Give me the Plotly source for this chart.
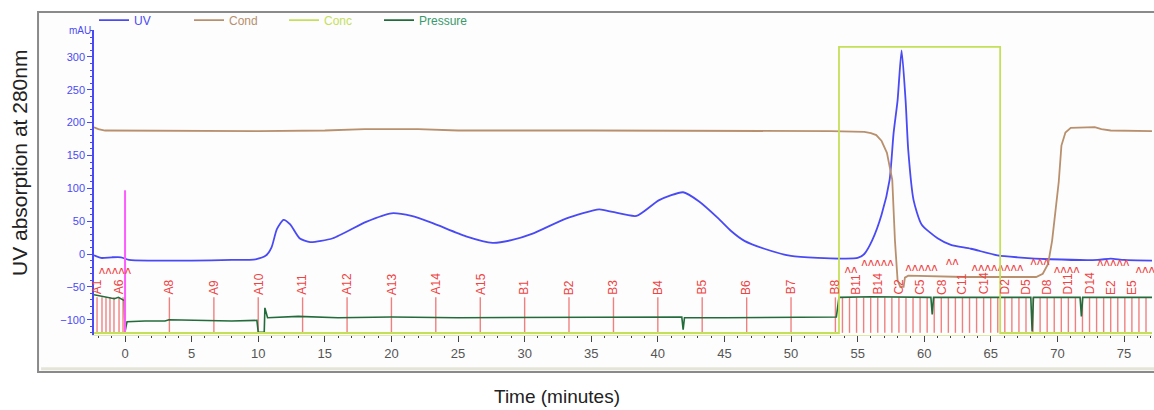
import plotly.graph_objects as go

# ---------------- data ----------------
uv_t = [-2.33, -1.8, -1.0, -0.3, 0.3, 2.0, 5.0, 8.0, 9.8, 10.6, 11.0, 11.4, 11.9, 12.4, 13.1, 13.9,
        15.6, 18.1, 20.0, 21.5, 23.1, 25.6, 27.6, 29.0, 30.6, 33.1, 35.6, 36.6, 38.4, 40.1, 41.9,
        43.1, 44.5, 45.5, 46.5, 48.0, 50.0, 52.0, 54.0, 55.0, 55.5, 56.1, 56.8, 57.4, 57.7, 58.0,
        58.3, 58.6, 58.8, 59.2, 59.8, 61.0, 62.0, 63.5, 65.5, 67.0, 69.5, 73.0, 74.0, 75.0, 77.1]
uv_v = [-2, -6, -5, -5, -9, -10, -10, -9, -8, -2, 10, 38, 52, 45, 24, 18,
        24, 49, 62, 58, 47, 27, 17, 21, 31, 54, 68, 64, 58, 82, 94,
        80, 55, 35, 20, 8, -3, -6, -7, -6, 0, 21, 60, 113, 184, 234,
        310, 234, 158, 82, 45, 24, 14, 8, -2, -5, -8, -9, -7, -9, -10]

cond_t = [-2.33, -2.0, -1.5, 5.0, 10.0, 15.0, 18.0, 22.0, 25.0, 35.0, 45.0, 53.0, 55.5, 56.0,
          56.4, 56.8, 57.2, 57.6, 57.8, 58.0, 58.2, 58.45, 58.55, 58.8, 63.0, 68.4, 68.9, 69.3,
          69.6, 69.9, 70.1, 70.3, 70.6, 71.0, 72.8, 73.3, 74.0, 77.1]
cond_v = [193, 190, 188, 187, 187, 188, 190, 190, 188, 188, 188, 187, 186, 184,
          181, 172, 154, 113, 21, -40, -50, -50, -36, -33, -35, -35, -30, -15,
          20, 70, 110, 165, 185, 192, 193, 190, 188, 187]

conc_t = [-2.33, 53.6, 53.6, 65.7, 65.7, 77.1]
conc_v = [0, 0, 100, 100, 0, 0]

pres_t = [-2.33, -1.8, -1.2, -0.8, -0.5, -0.2, -0.05, 0.0, 0.15, 1.5, 3.0, 3.3, 6.0, 8.0, 9.9,
          10.0, 10.45, 10.5, 10.7, 13.0, 16.0, 20.0, 25.0, 30.0, 35.0, 41.8, 41.9, 42.0, 45.0,
          50.0, 53.4, 53.6, 56.0, 60.5, 60.6, 60.7, 64.0, 68.0, 68.1, 68.2, 71.7, 71.8, 71.9, 77.1]
pres_v = [-62, -64, -66, -68, -66, -70, -71, -118, -103, -102, -102, -100, -101, -102, -101,
          -119, -119, -82, -97, -95, -97, -96, -97, -97, -97, -96, -115, -97, -97,
          -97, -96, -66, -65, -66, -92, -66, -66, -66, -118, -66, -66, -95, -66, -66]

inject_t = 0.0
inject_top = 97

frac_t = [-2.1, -1.73, -1.43, -1.13, -0.83, -0.45, -0.15,
          0.0, 3.33, 6.67, 10.0, 13.33, 16.67, 20.0, 23.33, 26.67, 30.0, 33.33, 36.67, 40.0,
          43.33, 46.67, 50.0,
          53.33, 53.86, 54.39, 54.92, 55.45, 55.98, 56.51, 57.04, 57.57, 58.10, 58.63, 59.16,
          59.69, 60.22, 60.75, 61.28, 61.81, 62.34, 62.87, 63.40, 63.93, 64.46, 64.99, 65.52,
          66.05, 66.58, 67.11, 67.64, 68.17, 68.70, 69.23, 69.76, 70.29, 70.82, 71.35, 71.88,
          72.41, 72.94, 73.47, 74.00, 74.53, 75.06, 75.59, 76.12, 76.65]
frac_bottom = -120
frac_top = -66

frac_label_t = [-2.1, -0.45, 3.33, 6.67, 10.0, 13.33, 16.67, 20.0, 23.33, 26.67, 30.0, 33.33,
                36.67, 40.0, 43.33, 46.67, 50.0, 53.33, 54.92, 56.51, 58.10, 59.69, 61.28,
                62.87, 64.46, 66.05, 67.64, 69.23, 70.82, 72.41, 74.00, 75.59]
frac_label_txt = ["A1", "A6", "A8", "A9", "A10", "A11", "A12", "A13", "A14", "A15", "B1", "B2",
                  "B3", "B4", "B5", "B6", "B7", "B8", "B11", "B14", "C2", "C5", "C8",
                  "C11", "C14", "D2", "D5", "D8", "D11", "D14", "E2", "E5"]

event_t = [-0.75, 54.5, 56.5, 59.8, 62.1, 65.5, 68.7, 70.7, 74.2, 76.6]
event_v = [-27, -24, -14, -21, -12, -21, -12, -24, -14, -24]
event_txt = ["ʌʌʌʌʌ", "ʌʌ", "ʌʌʌʌʌ", "ʌʌʌʌʌ", "ʌʌ", "ʌʌʌʌʌʌʌʌ", "ʌʌʌ",
             "ʌʌʌʌ", "ʌʌʌʌʌ", "ʌʌʌ"]

x_range = [-2.33, 77.1]
y_range = [-123.3, 341]
y2_range = [-0.7, 105.9]

C_UV = "#4a4af5"
C_COND = "#b8906e"
C_CONC = "#c4e05a"
C_PRES = "#236b3b"
C_PRES_TXT = "#3a9a6a"
C_FRAC = "#f08080"
C_LAB = "#ee4444"

# ---------------- figure ----------------
fig = go.Figure()

fx, fy = [], []
for t in frac_t:
    fx += [t, t, None]
    fy += [frac_bottom, frac_top, None]
fig.add_trace(go.Scatter(x=fx, y=fy, mode="lines", line=dict(color=C_FRAC, width=1.4),
                         showlegend=False, hoverinfo="skip"))

fig.add_trace(go.Scatter(x=uv_t, y=uv_v, mode="lines",
                         line=dict(color=C_UV, width=1.8, shape="spline", smoothing=0.6),
                         name=f"<span style='color:{C_UV}'>UV</span>"))
fig.add_trace(go.Scatter(x=cond_t, y=cond_v, mode="lines", line=dict(color=C_COND, width=1.8),
                         name=f"<span style='color:{C_COND}'>Cond</span>"))
fig.add_trace(go.Scatter(x=conc_t, y=conc_v, mode="lines", line=dict(color=C_CONC, width=1.8),
                         yaxis="y2", name=f"<span style='color:{C_CONC}'>Conc</span>"))
fig.add_trace(go.Scatter(x=pres_t, y=pres_v, mode="lines", line=dict(color=C_PRES, width=1.6),
                         name=f"<span style='color:{C_PRES_TXT}'>Pressure</span>"))
fig.add_trace(go.Scatter(x=[inject_t, inject_t], y=[inject_top, frac_bottom], mode="lines",
                         line=dict(color="#ff5cff", width=2), showlegend=False, hoverinfo="skip"))
fig.add_trace(go.Scatter(x=event_t, y=event_v, mode="text", text=event_txt,
                         textfont=dict(color=C_LAB, size=11, family="DejaVu Sans"),
                         showlegend=False, hoverinfo="skip", cliponaxis=False))

for t, s in zip(frac_label_t, frac_label_txt):
    fig.add_annotation(x=t, y=frac_top + 1, text=s, textangle=-90, showarrow=False,
                       xanchor="center", yanchor="bottom", font=dict(color=C_LAB, size=12,
                       family="Liberation Sans"))

# y title, x title, unit
fig.add_annotation(x=-0.0699, y=0.564, xref="paper", yref="paper", text="UV absorption at 280nm",
                   textangle=-90, showarrow=False, xanchor="center", yanchor="middle",
                   font=dict(size=21, color="#222", family="Liberation Sans"))
fig.add_annotation(x=0.4376, y=-0.203, xref="paper", yref="paper", text="Time (minutes)",
                   showarrow=False, xanchor="center", yanchor="middle",
                   font=dict(size=19, color="#222", family="Liberation Sans"))
fig.add_annotation(x=-0.0132, y=1.0, xref="paper", yref="paper", text="mAU", showarrow=False,
                   xanchor="center", yanchor="middle", font=dict(size=10, color=C_UV,
                   family="Liberation Sans"))

# frame
fig.add_shape(type="rect", xref="paper", yref="paper", x0=-0.0529, x1=1.02, y0=-0.1213, y1=1.059,
              line=dict(color="#8a8a8a", width=2), fillcolor="#fdfdfd", layer="below")
fig.add_shape(type="line", xref="paper", yref="paper", x0=-0.05, x1=1.02, y0=-0.111, y1=-0.111,
              line=dict(color="#e4e4d8", width=3), layer="below")

fig.update_layout(
    width=1154, height=410,
    margin=dict(l=94, r=2, t=30, b=75),
    paper_bgcolor="white", plot_bgcolor="rgba(0,0,0,0)",
    font=dict(family="Liberation Sans"),
    showlegend=True,
    legend=dict(orientation="h", x=0.0, xanchor="left", y=0.985, yanchor="bottom",
                font=dict(size=12), entrywidth=50, bgcolor="rgba(0,0,0,0)",
                itemclick=False),
    xaxis=dict(range=x_range, tick0=0, dtick=5, ticks="outside", ticklen=6, tickcolor="#444",
               tickfont=dict(size=13, color="#555"), showline=True, linecolor="#dfe9a8",
               linewidth=1, showgrid=False, zeroline=False,
               minor=dict(dtick=1, ticks="outside", ticklen=2, tickcolor="#444")),
    yaxis=dict(range=y_range, tick0=0, dtick=50, ticks="outside", ticklen=5, tickcolor=C_UV,
               tickfont=dict(size=11, color=C_UV), showline=True, linecolor=C_UV, linewidth=1.5,
               showgrid=False, zeroline=False,
               minor=dict(dtick=10, ticks="outside", ticklen=2, tickcolor=C_UV)),
    yaxis2=dict(range=y2_range, overlaying="y", visible=False),
)

fig.write_html("out.html")
